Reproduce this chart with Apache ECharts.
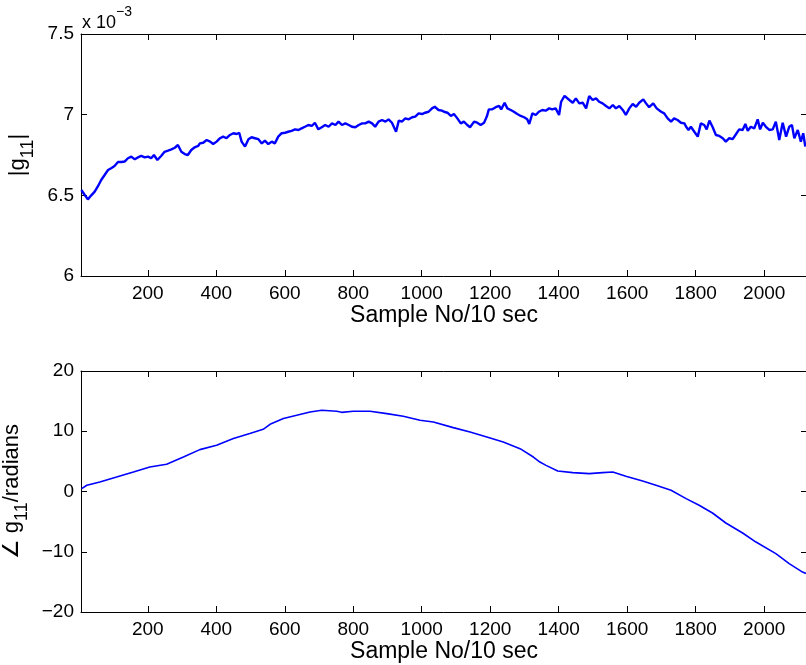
<!DOCTYPE html>
<html>
<head>
<meta charset="utf-8">
<title>g11 magnitude and phase</title>
<script src="https://cdn.jsdelivr.net/npm/echarts@6/dist/echarts.min.js"></script>
<style>
html, body { margin: 0; padding: 0; background: #fff; }
#main { width: 806px; height: 665px; }
</style>
</head>
<body>
<div id="main"></div>
<script>
// |g11| in units of 1e-3
var magSample = [6, 16, 25, 35, 45, 55, 64, 74, 84, 93, 103, 113, 123, 133, 142, 152, 162, 171, 181, 191,
    201, 210, 218, 228, 239, 249, 259, 269, 279, 288, 298, 308, 317, 327, 337, 347, 352, 362, 372, 382,
    391, 401, 411, 420, 430, 440, 450, 460, 467, 474, 484, 494, 503, 513, 523, 533, 542, 552, 562, 571,
    581, 591, 601, 610, 620, 630, 640, 649, 659, 669, 679, 688, 698, 708, 718, 728, 738, 748, 757, 767,
    777, 787, 796, 806, 816, 826, 835, 845, 855, 864, 874, 884, 894, 903, 913, 925, 933, 942, 952, 962,
    972, 981, 991, 1001, 1010, 1020, 1030, 1038, 1049, 1059, 1065, 1075, 1085, 1094, 1104, 1114, 1123, 1133, 1141, 1153,
    1162, 1172, 1182, 1190, 1196, 1206, 1216, 1226, 1232, 1242, 1250, 1260, 1269, 1279, 1289, 1299, 1308, 1314, 1323, 1333,
    1342, 1352, 1362, 1372, 1381, 1391, 1401, 1407, 1417, 1421, 1431, 1441, 1450, 1460, 1470, 1480, 1489, 1499, 1509, 1518,
    1528, 1538, 1548, 1558, 1567, 1577, 1587, 1596, 1606, 1616, 1626, 1635, 1647, 1655, 1664, 1676, 1686, 1699, 1708, 1718,
    1728, 1737, 1747, 1757, 1767, 1772, 1779, 1786, 1796, 1806, 1815, 1825, 1832, 1840, 1849, 1859, 1869, 1879, 1888, 1898,
    1908, 1918, 1927, 1937, 1945, 1952, 1961, 1971, 1981, 1988, 1996, 2005, 2015, 2025, 2034, 2044, 2054, 2064, 2073, 2081,
    2088, 2098, 2107, 2114, 2120];
var magValue = [6.533, 6.502, 6.475, 6.500, 6.523, 6.558, 6.595, 6.626, 6.657, 6.668, 6.682, 6.707, 6.707, 6.710, 6.730, 6.740, 6.723, 6.735, 6.744, 6.735,
    6.740, 6.730, 6.750, 6.719, 6.744, 6.770, 6.777, 6.785, 6.795, 6.812, 6.770, 6.756, 6.750, 6.781, 6.798, 6.806, 6.822, 6.826, 6.843, 6.833,
    6.818, 6.833, 6.854, 6.864, 6.854, 6.874, 6.885, 6.880, 6.888, 6.833, 6.802, 6.848, 6.860, 6.854, 6.848, 6.822, 6.839, 6.818, 6.833, 6.822,
    6.864, 6.885, 6.888, 6.894, 6.900, 6.909, 6.905, 6.915, 6.925, 6.936, 6.930, 6.950, 6.909, 6.922, 6.936, 6.925, 6.946, 6.936, 6.957, 6.936,
    6.946, 6.936, 6.925, 6.922, 6.936, 6.946, 6.946, 6.957, 6.946, 6.925, 6.957, 6.967, 6.957, 6.971, 6.950, 6.894, 6.963, 6.957, 6.977, 6.971,
    6.984, 6.988, 7.008, 7.004, 7.012, 7.018, 7.039, 7.049, 7.029, 7.025, 7.018, 7.012, 6.992, 7.004, 6.977, 6.946, 6.957, 6.936, 6.922, 6.957,
    6.950, 6.936, 6.950, 6.988, 7.033, 7.033, 7.046, 7.054, 7.033, 7.074, 7.039, 7.029, 7.018, 7.004, 6.992, 6.984, 6.971, 6.942, 7.008, 6.998,
    7.018, 7.029, 7.025, 7.039, 7.033, 7.039, 6.998, 7.080, 7.116, 7.116, 7.091, 7.074, 7.101, 7.070, 7.074, 7.039, 7.116, 7.091, 7.101, 7.080,
    7.070, 7.054, 7.039, 7.060, 7.039, 7.054, 7.029, 6.998, 7.039, 7.066, 7.049, 7.074, 7.095, 7.070, 7.046, 7.070, 7.039, 7.018, 7.008, 6.977,
    6.957, 6.977, 6.967, 6.950, 6.946, 6.925, 6.905, 6.925, 6.894, 6.864, 6.946, 6.936, 6.909, 6.963, 6.925, 6.874, 6.868, 6.854, 6.833, 6.854,
    6.848, 6.880, 6.909, 6.905, 6.942, 6.900, 6.925, 6.915, 6.971, 6.909, 6.950, 6.925, 6.905, 6.909, 6.957, 6.843, 6.950, 6.864, 6.925, 6.936,
    6.854, 6.905, 6.833, 6.885, 6.802];

// angle of g11 in radians, lower plot
var phaseSample = [7, 22, 60, 109, 158, 206, 255, 304, 352, 401, 450, 498, 537, 557, 596, 635, 674, 708, 752, 766,
    800, 849, 898, 946, 995, 1034, 1092, 1141, 1190, 1238, 1287, 1326, 1345, 1363, 1397, 1441, 1489, 1528, 1558, 1596,
    1645, 1684, 1728, 1772, 1810, 1849, 1888, 1937, 1976, 2034, 2073, 2112, 2122];
var phaseValue = [0.48, 1.03, 1.58, 2.40, 3.23, 4.06, 4.51, 5.72, 6.95, 7.66, 8.78, 9.61, 10.32, 11.15, 12.10, 12.65, 13.19, 13.48, 13.31, 13.14,
    13.31, 13.31, 12.93, 12.48, 11.82, 11.53, 10.60, 9.88, 9.04, 8.21, 7.11, 5.72, 4.89, 4.34, 3.40, 3.13, 2.96, 3.13, 3.23, 2.52,
    1.74, 1.03, 0.20, -1.18, -2.29, -3.57, -5.23, -6.89, -8.39, -10.31, -11.97, -13.37, -13.60];

var xTicks = [200, 400, 600, 800, 1000, 1200, 1400, 1600, 1800, 2000];
var magTicks = [6, 6.5, 7, 7.5];
var phaseTicks = [-20, -10, 0, 10, 20];

var FONT = 'Liberation Sans, Arial, Helvetica, DejaVu Sans, sans-serif';
var xMin = 5, xMax = 2125;

function pairs (xs, ys) {
    return xs.map(function (x, i) { return [x, ys[i]] })
}
// plain numbers, no thousands separator, real minus sign
function plain (v) {
    return String(v).replace('-', '\u2212')
}

function xAxisFor (grid, pos, showLabel) {
    return {
        type: 'value', gridIndex: grid, position: pos, min: xMin, max: xMax,
        name: showLabel ? 'Sample No/10 sec' : '',
        nameLocation: 'middle', nameGap: 28,
        nameTextStyle: { fontFamily: FONT, fontSize: 23, color: '#000' },
        axisLine: { show: true, onZero: false, lineStyle: { color: '#000', width: 1 } },
        axisTick: { show: true, inside: true, length: 6, customValues: xTicks, lineStyle: { color: '#000' } },
        axisLabel: { show: showLabel, customValues: xTicks, margin: 8, fontFamily: FONT, fontSize: 19, color: '#000', formatter: plain },
        splitLine: { show: false }
    }
}

function yAxisFor (grid, pos, ticks, name) {
    return {
        type: 'value', gridIndex: grid, position: pos,
        min: ticks[0], max: ticks[ticks.length - 1], interval: ticks[1] - ticks[0],
        name: name || '',
        nameLocation: 'middle', nameRotate: 90, nameGap: 44,
        nameTextStyle: {
            fontFamily: FONT, color: '#000',
            rich: {
                m: { fontFamily: FONT, fontSize: 22, lineHeight: 30, verticalAlign: 'top', color: '#000' },
                s: { fontFamily: FONT, fontSize: 18, lineHeight: 18, verticalAlign: 'bottom', color: '#000' }
            }
        },
        axisLine: { show: true, onZero: false, lineStyle: { color: '#000', width: 1 } },
        axisTick: { show: true, inside: true, length: 6, lineStyle: { color: '#000' } },
        axisLabel: { show: !!name, margin: 7, fontFamily: FONT, fontSize: 19, color: '#000', formatter: plain },
        splitLine: { show: false }
    }
}

var chart = echarts.init(document.getElementById('main'), null, { renderer: 'canvas' })
chart.setOption({
    animation: false,
    backgroundColor: '#fff',
    grid: [
        { left: 81, top: 34, width: 726, height: 242, outerBoundsMode: 'none', containLabel: false },
        { left: 81, top: 371, width: 726, height: 241, outerBoundsMode: 'none', containLabel: false }
    ],
    xAxis: [
        xAxisFor(0, 'bottom', true),
        xAxisFor(0, 'top', false),
        xAxisFor(1, 'bottom', true),
        xAxisFor(1, 'top', false)
    ],
    yAxis: [
        yAxisFor(0, 'left', magTicks, '{m||g}{s|11}{m||}'),
        yAxisFor(0, 'right', magTicks, ''),
        yAxisFor(1, 'left', phaseTicks, '{m|\u2220 g}{s|11}{m|/radians}'),
        yAxisFor(1, 'right', phaseTicks, '')
    ],
    graphic: [{
        type: 'text', left: 82, top: 5,
        style: {
            text: '{a|x 10}{b|\u22123}',
            fill: '#000',
            rich: {
                a: { fontFamily: FONT, fontSize: 18, lineHeight: 27, verticalAlign: 'bottom', color: '#000' },
                b: { fontFamily: FONT, fontSize: 14, lineHeight: 14, verticalAlign: 'top', color: '#000' }
            }
        }
    }],
    series: [
        {
            type: 'line', xAxisIndex: 0, yAxisIndex: 0,
            data: pairs(magSample, magValue),
            showSymbol: false, symbol: 'none',
            lineStyle: { color: '#0000ff', width: 2.4 }
        },
        {
            type: 'line', xAxisIndex: 2, yAxisIndex: 2,
            data: pairs(phaseSample, phaseValue),
            showSymbol: false, symbol: 'none',
            lineStyle: { color: '#0000ff', width: 1.6 }
        }
    ]
})
</script>
</body>
</html>
